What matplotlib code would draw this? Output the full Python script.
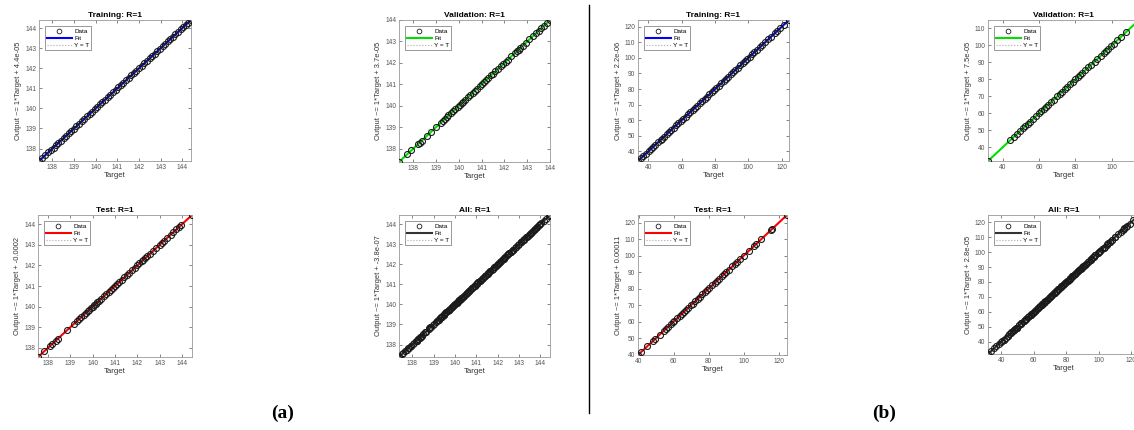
import numpy as np
import matplotlib
matplotlib.use("Agg")
import matplotlib.pyplot as plt
from matplotlib.lines import Line2D
from matplotlib.ticker import MultipleLocator

plt.rcParams['font.family'] = ['Liberation Sans', 'DejaVu Sans']

# targets (R=1, so outputs sit on the targets)
a_train = [137.38, 137.52, 137.66, 137.81, 137.93, 138.05, 138.18, 138.27, 138.39, 138.52,
           138.64, 138.77, 138.86, 138.98, 139.11, 139.24, 139.35, 139.47, 139.60, 139.72,
           139.83, 139.95, 140.08, 140.20, 140.31, 140.44, 140.57, 140.68, 140.80, 140.93,
           141.05, 141.16, 141.28, 141.41, 141.53, 141.65, 141.77, 141.88, 142.00, 142.13,
           142.25, 142.36, 142.49, 142.61, 142.73, 142.85, 142.96, 143.09, 143.21, 143.33,
           143.45, 143.57, 143.68, 143.80, 143.93, 144.05, 144.16, 144.27, 144.40]
a_val = [137.38, 137.75, 137.92, 138.20, 138.28, 138.38, 138.60, 138.80, 139.00, 139.22,
         139.30, 139.38, 139.47, 139.55, 139.66, 139.74, 139.85, 139.95, 140.05, 140.13,
         140.20, 140.28, 140.40, 140.50, 140.62, 140.70, 140.80, 140.92, 141.02, 141.10,
         141.18, 141.30, 141.42, 141.50, 141.60, 141.72, 141.85, 141.95, 142.05, 142.15,
         142.30, 142.45, 142.55, 142.62, 142.70, 142.80, 142.95, 143.10, 143.25, 143.40,
         143.50, 143.62, 143.72, 143.85, 144.00]
a_test = [137.56, 137.85, 138.10, 138.20, 138.35, 138.45, 138.85, 139.15, 139.30, 139.40,
          139.50, 139.60, 139.70, 139.78, 139.85, 139.92, 140.00, 140.08, 140.15, 140.22,
          140.30, 140.38, 140.50, 140.62, 140.72, 140.82, 140.90, 141.00, 141.10, 141.20,
          141.30, 141.42, 141.55, 141.65, 141.78, 141.90, 142.00, 142.10, 142.20, 142.28,
          142.36, 142.45, 142.55, 142.70, 142.85, 143.00, 143.10, 143.20, 143.35, 143.50,
          143.62, 143.75, 143.85, 143.95, 144.45]

b_train = [33.8, 35.5, 37.0, 38.6, 40.2, 41.5, 42.8, 44.1, 46.0, 47.3, 48.1, 49.5, 51.0,
           52.4, 53.8, 55.1, 56.6, 58.0, 59.4, 60.9, 62.3, 63.7, 65.1, 66.6, 68.0, 69.4,
           70.8, 72.3, 73.7, 75.1, 76.5, 78.0, 79.4, 80.8, 82.2, 83.7, 85.1, 86.5, 87.9,
           89.4, 90.8, 92.2, 93.6, 95.1, 96.5, 97.9, 99.3, 100.8, 102.2, 103.6, 105.3,
           106.8, 108.2, 110.1, 111.9, 113.5, 115.8, 117.2, 119.0, 121.4, 124.3]
b_val = [31.8, 44.0, 46.2, 48.0, 49.5, 51.0, 52.3, 53.8, 55.0, 56.5, 58.2, 60.0, 61.2,
         62.5, 63.8, 65.0, 66.5, 68.0, 70.0, 71.5, 72.8, 74.0, 75.5, 77.0, 78.5, 80.0,
         81.5, 82.5, 83.8, 85.5, 87.0, 88.5, 90.5, 92.0, 94.0, 95.5, 96.8, 98.0, 99.5,
         101.0, 103.0, 105.0, 108.0, 115.0]
b_test = [39.7, 41.5, 45.0, 48.5, 49.2, 52.0, 54.5, 55.5, 57.0, 58.5, 59.5, 60.5, 62.0,
          63.5, 64.8, 66.0, 67.2, 68.5, 69.8, 71.0, 72.5, 73.8, 75.0, 76.5, 77.8, 79.0,
          80.5, 82.0, 83.5, 84.8, 86.0, 87.5, 88.8, 90.0, 91.5, 93.5, 95.0, 96.5, 98.0,
          100.0, 103.0, 106.0, 107.0, 110.0, 115.5, 116.5, 124.8]

titles = ["Training: R=1", "Validation: R=1", "Test: R=1", "All: R=1"]
slope = 1
a_intercepts = ["4.4e-05", "3.7e-05", "-0.0002", "-3.8e-07"]
b_intercepts = ["2.2e-06", "7.5e-05", "0.00011", "2.8e-05"]

fit_colors = ['#0000ff', '#00e000', '#ff0000', '#333333']

W, H = 1134, 430
fig = plt.figure(figsize=(W / 100, H / 100), dpi=100)


def panel(rect, t, title, b, color, xstep, ystep):
    l, top, w, h = rect
    ax = fig.add_axes([l / W, 1 - (top + h) / H, w / W, h / H])
    t = np.array(t)
    lims = np.array([t.min(), t.max()])
    d, = ax.plot(t, t, 'o', mfc='none', mec='#1a1a1a', ms=4.3, mew=0.8, zorder=3)
    f, = ax.plot(lims, slope * lims + float(b), color=color, lw=1.5, zorder=2)
    yt, = ax.plot(lims, lims, ':', color='#aaaaaa', lw=0.8, zorder=1)
    ax.set_xlim(lims)
    ax.set_ylim(lims)
    ax.xaxis.set_major_locator(MultipleLocator(xstep))
    ax.yaxis.set_major_locator(MultipleLocator(ystep))
    ax.tick_params(direction='in', length=2.2, width=0.5, top=True, right=True,
                   labelsize=4.8, colors='#555555', pad=2)
    for s in ax.spines.values():
        s.set_color('#999999')
        s.set_linewidth(0.6)
    ax.set_title(title, fontsize=6, fontweight='bold', pad=2)
    ax.set_xlabel('Target', fontsize=5.6, labelpad=1, color='#333333')
    ax.set_ylabel('Output ~= 1*Target + ' + b, fontsize=5.4, labelpad=2, color='#333333')
    leg = ax.legend([d, f, yt], ['Data', 'Fit', 'Y = T'], loc='upper left', fontsize=4.6,
                    fancybox=False, edgecolor='#888888', borderaxespad=1.0,
                    handlelength=3.8, handletextpad=0.4, borderpad=0.3,
                    labelspacing=0.25, numpoints=1, framealpha=1)
    leg.get_frame().set_linewidth(0.6)
    leg.legend_handles[0].set_markersize(3.4)
    leg.legend_handles[0].set_markeredgewidth(0.6)
    return ax


a_all = a_train + a_val + a_test
b_all = b_train + b_val + b_test

panel((39, 20, 152, 141), a_train, titles[0], a_intercepts[0], fit_colors[0], 1, 1)
panel((399, 20, 151, 142), a_val, titles[1], a_intercepts[1], fit_colors[1], 1, 1)
panel((38, 215, 154, 142), a_test, titles[2], a_intercepts[2], fit_colors[2], 1, 1)
panel((399, 215, 151, 142), a_all, titles[3], a_intercepts[3], fit_colors[3], 1, 1)

panel((638, 20, 151, 141), b_train, titles[0], b_intercepts[0], fit_colors[0], 20, 10)
panel((988, 20, 151, 141), b_val, titles[1], b_intercepts[1], fit_colors[1], 20, 10)
panel((638, 215, 149, 140), b_test, titles[2], b_intercepts[2], fit_colors[2], 20, 10)
panel((988, 215, 151, 139), b_all, titles[3], b_intercepts[3], fit_colors[3], 20, 10)

# divider between the two panels
fig.add_artist(Line2D([589 / W, 589 / W], [1 - 5 / H, 1 - 413 / H], color='black', lw=1.0))

fig.text(283 / W, 1 - 413 / H, '(a)', fontsize=14, fontweight='bold',
         family='Liberation Serif', ha='center', va='center')
fig.text(884 / W, 1 - 413 / H, '(b)', fontsize=14, fontweight='bold',
         family='Liberation Serif', ha='center', va='center')

fig.savefig('out.png', dpi=100)
